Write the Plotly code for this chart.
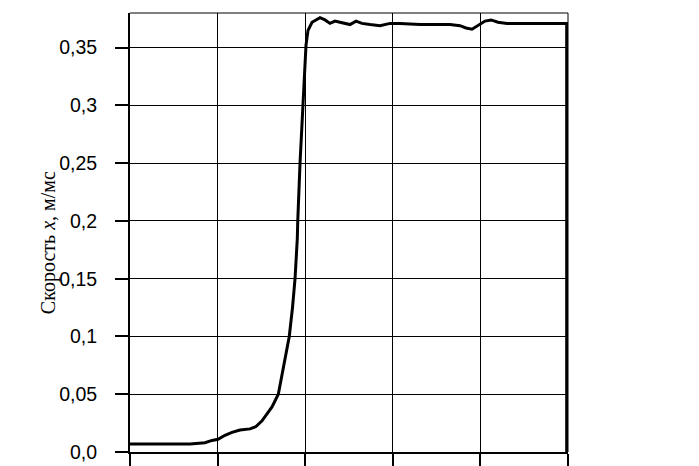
import plotly.graph_objects as go

t = [0.000, 0.342, 0.685, 0.856, 0.936, 1.005, 1.084, 1.164, 1.256, 1.370, 1.438,
     1.507, 1.564, 1.621, 1.693, 1.758, 1.818, 1.855, 1.884, 1.910, 1.915, 1.941,
     1.971, 1.992, 2.009, 2.032, 2.078, 2.169, 2.226, 2.283, 2.340, 2.397, 2.454,
     2.511, 2.580, 2.648, 2.740, 2.854, 2.968, 3.082, 3.311, 3.539, 3.653, 3.767,
     3.836, 3.904, 3.973, 4.053, 4.121, 4.201, 4.304, 4.566, 4.985, 4.985]
v = [0.007, 0.007, 0.007, 0.008, 0.010, 0.011, 0.0145, 0.017, 0.019, 0.020, 0.022,
     0.027, 0.033, 0.039, 0.050, 0.075, 0.100, 0.125, 0.150, 0.185, 0.200, 0.250,
     0.300, 0.335, 0.352, 0.365, 0.372, 0.376, 0.374, 0.371, 0.373, 0.372, 0.371,
     0.370, 0.373, 0.371, 0.370, 0.369, 0.371, 0.371, 0.370, 0.370, 0.370, 0.369,
     0.367, 0.366, 0.369, 0.373, 0.374, 0.372, 0.371, 0.371, 0.371, 0.0]

y_tickvals = [0.0, 0.05, 0.1, 0.15, 0.2, 0.25, 0.3, 0.35]
y_ticktext = ["0,0", "0,05", "0,1", "0,15", "0,2", "0,25", "0,3", "0,35"]
x_tickvals = [0, 1, 2, 3, 4, 5]
y_title = "Скорость <i>x</i>, м/мс"

fig = go.Figure()
fig.add_trace(go.Scatter(x=t, y=v, mode="lines",
                         line=dict(color="black", width=3), showlegend=False,
                         hoverinfo="skip"))

fig.update_layout(
    template="none",
    width=699, height=466,
    margin=dict(l=122, r=139, t=5, b=22),
    paper_bgcolor="white", plot_bgcolor="white",
    xaxis=dict(range=[0, 5], tickvals=x_tickvals, showticklabels=False,
               ticks="outside", ticklen=15, tickwidth=2, tickcolor="black",
               showgrid=True, gridcolor="black", gridwidth=1,
               showline=True, linecolor="black", linewidth=2,
               zeroline=False),
    yaxis=dict(range=[0, 0.38], tickvals=y_tickvals, ticktext=y_ticktext,
               ticks="outside", ticklen=13, tickwidth=2, tickcolor="black",
               ticklabelstandoff=14,
               tickfont=dict(family="Liberation Sans, Arial", size=19.5, color="black"),
               showgrid=True, gridcolor="black", gridwidth=1,
               showline=True, linecolor="black", linewidth=2,
               zeroline=False),
    shapes=[
        dict(type="line", xref="paper", yref="paper", x0=0, x1=1, y0=1, y1=1,
             line=dict(color="black", width=1)),
        dict(type="line", xref="paper", yref="paper", x0=1, x1=1, y0=0, y1=1,
             line=dict(color="black", width=1)),
    ],
    annotations=[
        dict(text=y_title, xref="paper", yref="paper", x=-0.187, y=0.476,
             textangle=-90, showarrow=False, xanchor="center", yanchor="middle",
             font=dict(family="Liberation Serif, Times New Roman", size=20, color="black"))
    ],
)

fig.write_html("out.html")
